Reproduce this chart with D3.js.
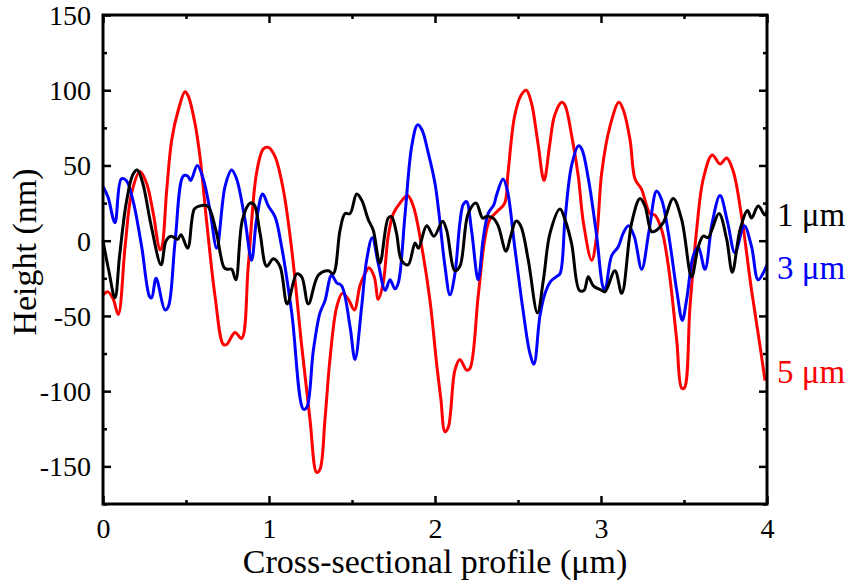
<!DOCTYPE html>
<html>
<head>
<meta charset="utf-8">
<script src="https://cdn.jsdelivr.net/npm/d3@7"></script>
<style>
body { margin: 0; background: #fff; }
svg text { font-family: "Liberation Serif", "Times New Roman", serif; }
</style>
</head>
<body>
<script>
// profile data (x in µm, height in nm)
const x1 = [0,0.035,0.072,0.10,0.14,0.18,0.207,0.24,0.29,0.35,0.38,0.41,0.45,0.47,0.51,0.55,0.58,0.63,0.68,0.73,0.75,0.775,0.80,0.84,0.886,0.91,0.946,0.986,1.026,1.066,1.11,1.167,1.197,1.237,1.297,1.357,1.387,1.428,1.458,1.488,1.528,1.558,1.598,1.628,1.668,1.718,1.738,1.768,1.798,1.838,1.88,1.90,1.95,1.994,2.046,2.07,2.12,2.15,2.2,2.247,2.287,2.31,2.35,2.38,2.428,2.456,2.488,2.516,2.562,2.617,2.653,2.693,2.753,2.783,2.823,2.87,2.898,2.923,2.954,3.004,3.024,3.084,3.125,3.185,3.235,3.265,3.305,3.335,3.375,3.435,3.486,3.546,3.586,3.616,3.646,3.667,3.711,3.757,3.791,3.837,3.883,3.907,3.947,3.988,4.0];
const h1 = [0,-20,-38,-10,25,44,47,38,10,-16,0,3,1,4,-5,21,23,23,7,-18,-19,-19,-26,14,25,24,5,-17,-12,-17,-42,-22,-24,-42,-23,-20,-22,7,18,18,31,27,14,7,-15,15,16,5,-13,-16,-1.5,-5,10,3,13,7,-20,-17,18,25,15,16,15,10,-7,3,13,10,-13,-48,-26,5,21,14,-2,-33,-33,-24,-30,-33,-34,-20,-35,12,28,23,6,7,12,28,14,-24,-4,3,2,7,18,1,-21,7,20,15,23,17,20];

const x3 = [0,0.03,0.072,0.11,0.14,0.18,0.233,0.28,0.293,0.32,0.373,0.393,0.434,0.484,0.51,0.528,0.568,0.604,0.645,0.685,0.735,0.775,0.805,0.855,0.895,0.925,0.962,0.996,1.036,1.076,1.137,1.207,1.227,1.267,1.307,1.337,1.377,1.408,1.438,1.488,1.518,1.558,1.588,1.622,1.658,1.70,1.729,1.759,1.779,1.82,1.86,1.895,1.92,1.96,2.0,2.024,2.06,2.09,2.12,2.15,2.17,2.19,2.22,2.26,2.29,2.32,2.355,2.37,2.41,2.435,2.48,2.53,2.572,2.596,2.632,2.663,2.697,2.73,2.753,2.783,2.823,2.864,2.884,2.924,2.974,3.01,3.024,3.064,3.104,3.134,3.165,3.2,3.245,3.29,3.335,3.366,3.406,3.456,3.49,3.516,3.556,3.586,3.626,3.67,3.717,3.763,3.807,3.863,3.907,3.947,4.0];
const h3 = [36,29,12,41,40,27,-4,-37,-38,-25,-46,-44,-1,43,43,40,50,41,20,-5,36,47,41,14,-13,14,31,23,16,-4,-48,-112,-111,-73,-48,-40,-23,-28,-30,-57,-79,-44,-13,2,-15,-33,-26,-32,-28,18,63,77,74,58,38,18,-17,-36,-22,12,24,26,7,-26,1,18,24,30,41,34,-4,-46,-75,-82,-50,-35,-27,-24,-22,14,50,63,61,41,3,-30,-33,-10,-4,5,10,3,-19,7,33,27,5,-33,-53,-39,-10,-4,-19,12,30,12,-8,10,-4,-26,-16];

const x5 = [0,0.03,0.062,0.092,0.133,0.173,0.223,0.263,0.303,0.343,0.353,0.384,0.414,0.454,0.494,0.514,0.554,0.584,0.625,0.675,0.725,0.745,0.795,0.835,0.875,0.925,0.966,0.996,1.036,1.086,1.137,1.197,1.247,1.287,1.307,1.337,1.367,1.408,1.442,1.478,1.514,1.548,1.578,1.602,1.634,1.658,1.688,1.718,1.749,1.789,1.835,1.869,1.92,1.97,2.01,2.035,2.06,2.08,2.12,2.15,2.19,2.21,2.26,2.3,2.33,2.38,2.42,2.44,2.48,2.52,2.55,2.58,2.62,2.657,2.69,2.72,2.763,2.783,2.823,2.863,2.894,2.944,2.974,3.004,3.054,3.108,3.134,3.175,3.205,3.245,3.295,3.325,3.366,3.406,3.456,3.486,3.502,3.536,3.576,3.616,3.67,3.717,3.757,3.797,3.847,3.907,3.958,3.988];
const h5 = [-36,-34,-39,-49,-4,32,46,38,18,-6,-5,34,67,87,99,96,78,56,12,-37,-69,-69,-61,-65,-17,45,61,62,56,34,-6,-70,-119,-154,-152,-119,-79,-44,-35,-39,-46,-30,-22,-18,-24,-39,-28,3,18,25,30,23,-4,-40,-82,-105,-127,-124,-86,-79,-86,-85,-37,1,14,20,25,45,83,97,100,92,65,40,63,83,92,90,70,43,12,-13,3,45,76,92,87,67,41,34,18,17,7,-17,-66,-98,-98,-44,7,41,57,51,55,46,16,-33,-70,-93];

const seriesNames = ["5 \u03bcm", "3 \u03bcm", "1 \u03bcm"];
const seriesColors = ["#ff0000", "#0000ff", "#000000"];
const xTicks = [0, 1, 2, 3, 4];
const yTicks = [-150, -100, -50, 0, 50, 100, 150];

const W = 856, H = 588;
const m = {left: 103, top: 15, right: 89, bottom: 84};
const iw = W - m.left - m.right, ih = H - m.top - m.bottom;

const svg = d3.select("body").append("svg")
  .attr("width", W).attr("height", H);

const x = d3.scaleLinear().domain([0, 4]).range([0, iw]);
const y = d3.scaleLinear().domain([-175, 150]).range([ih, 0]);

const g = svg.append("g").attr("transform", `translate(${m.left},${m.top})`);

const series = [
  {name: seriesNames[0], color: seriesColors[0], pts: x5.map((v, i) => [v, h5[i]]), labelY: 383},
  {name: seriesNames[1], color: seriesColors[1], pts: x3.map((v, i) => [v, h3[i]]), labelY: 279},
  {name: seriesNames[2], color: seriesColors[2], pts: x1.map((v, i) => [v, h1[i]]), labelY: 226}
];

const line = d3.line()
  .x(d => x(d[0]))
  .y(d => y(d[1]))
  .curve(d3.curveCatmullRom.alpha(0.5));

g.selectAll("path.curve")
  .data(series)
  .enter()
  .append("path")
  .attr("class", "curve")
  .attr("d", d => line(d.pts))
  .attr("fill", "none")
  .attr("stroke", d => d.color)
  .attr("stroke-width", 3)
  .attr("stroke-linejoin", "round");

// axes: ticks point inward on all four sides
const minorX = d3.range(0.5, 4, 1);
const minorY = d3.range(-175, 150, 50);
const plain = d => String(d);   // hyphen minus like the original

function styleAxis(sel) {
  sel.select(".domain").remove();
  sel.selectAll("line").attr("stroke", "#000").attr("stroke-width", 2.5);
  sel.selectAll("text").attr("fill", "#000").style("font-size", "28px");
}

g.append("g").attr("transform", `translate(0,${ih})`)
  .call(d3.axisBottom(x).tickValues(xTicks).tickSize(-8).tickFormat(plain))
  .call(styleAxis)
  .selectAll("text").attr("y", 34).attr("dy", null);
g.append("g").attr("transform", `translate(0,${ih})`)
  .call(d3.axisBottom(x).tickValues(minorX).tickSize(-4).tickFormat(""))
  .call(styleAxis);
g.append("g")
  .call(d3.axisTop(x).tickValues(xTicks).tickSize(-8).tickFormat(""))
  .call(styleAxis);
g.append("g")
  .call(d3.axisTop(x).tickValues(minorX).tickSize(-4).tickFormat(""))
  .call(styleAxis);

g.append("g")
  .call(d3.axisLeft(y).tickValues(yTicks).tickSize(-8).tickPadding(12).tickFormat(plain))
  .call(styleAxis)
  .selectAll("text").attr("dy", "0.34em");
g.append("g")
  .call(d3.axisLeft(y).tickValues(minorY).tickSize(-4).tickFormat(""))
  .call(styleAxis);
g.append("g").attr("transform", `translate(${iw},0)`)
  .call(d3.axisRight(y).tickValues(yTicks).tickSize(-8).tickFormat(""))
  .call(styleAxis);
g.append("g").attr("transform", `translate(${iw},0)`)
  .call(d3.axisRight(y).tickValues(minorY).tickSize(-4).tickFormat(""))
  .call(styleAxis);

// frame
g.append("rect")
  .attr("width", iw).attr("height", ih)
  .attr("fill", "none").attr("stroke", "#000").attr("stroke-width", 3);

// axis titles
svg.append("text")
  .attr("x", m.left + iw / 2).attr("y", 573)
  .attr("text-anchor", "middle")
  .style("font-size", "34px")
  .text("Cross-sectional profile (\u03bcm)");

svg.append("text")
  .attr("transform", "translate(36,252) rotate(-90)")
  .attr("text-anchor", "middle")
  .style("font-size", "34px")
  .text("Height (nm)");

// series labels at the right edge
svg.selectAll("text.lbl")
  .data(series)
  .enter()
  .append("text")
  .attr("class", "lbl")
  .attr("x", 777)
  .attr("y", d => d.labelY)
  .attr("fill", d => d.color)
  .style("font-size", "33px")
  .text(d => d.name);
</script>
</body>
</html>
